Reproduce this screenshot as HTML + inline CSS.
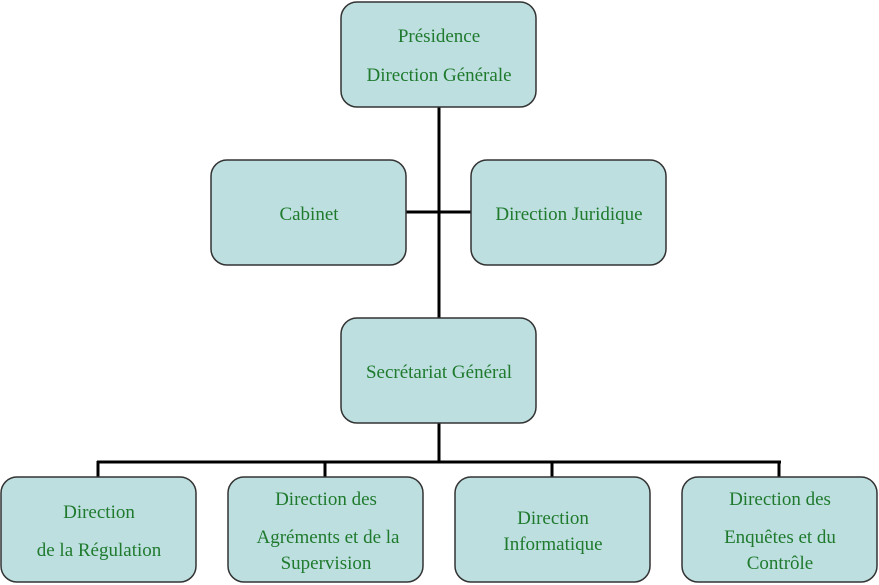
<!DOCTYPE html>
<html><head><meta charset="utf-8"><style>
html,body{margin:0;padding:0;background:#fff;width:879px;height:585px;overflow:hidden}
svg text{font-family:"Liberation Serif","DejaVu Serif",serif !important;font-size:19px;fill:#1f7a2e;text-anchor:middle}
rect{fill:#bddfdf;stroke:#333;stroke-width:1.5}
line{stroke:#000;stroke-width:3}
</style></head><body>
<svg width="879" height="585" xmlns="http://www.w3.org/2000/svg" font-family="Liberation Serif, serif">
<line x1="439" y1="107" x2="439" y2="318"/>
<line x1="406" y1="212" x2="471" y2="212"/>
<line x1="439" y1="423" x2="439" y2="462"/>
<line x1="97" y1="462" x2="781" y2="462"/>
<line x1="98" y1="461" x2="98" y2="477"/>
<line x1="325" y1="461" x2="325" y2="477"/>
<line x1="552" y1="461" x2="552" y2="477"/>
<line x1="779" y1="461" x2="779" y2="477"/>
<rect x="341" y="2" width="195" height="105" rx="16"/>
<rect x="211" y="160" width="195" height="105" rx="16"/>
<rect x="471" y="160" width="195" height="105" rx="16"/>
<rect x="341" y="318" width="195" height="105" rx="16"/>
<rect x="1" y="477" width="195" height="105" rx="16"/>
<rect x="228" y="477" width="195" height="105" rx="16"/>
<rect x="455" y="477" width="195" height="105" rx="16"/>
<rect x="682" y="477" width="195" height="105" rx="16"/>
<text x="439" y="42" font-family="Liberation Serif, serif">Présidence</text>
<text x="439" y="81" font-family="Liberation Serif, serif">Direction Générale</text>
<text x="309" y="220" font-family="Liberation Serif, serif">Cabinet</text>
<text x="569" y="220" font-family="Liberation Serif, serif">Direction Juridique</text>
<text x="439" y="378" font-family="Liberation Serif, serif">Secrétariat Général</text>
<text x="99" y="518" font-family="Liberation Serif, serif">Direction</text>
<text x="99" y="556" font-family="Liberation Serif, serif">de la Régulation</text>
<text x="326" y="505" font-family="Liberation Serif, serif">Direction des</text>
<text x="328" y="543" font-family="Liberation Serif, serif">Agréments et de la</text>
<text x="326" y="569" font-family="Liberation Serif, serif">Supervision</text>
<text x="553" y="524" font-family="Liberation Serif, serif">Direction</text>
<text x="553" y="550" font-family="Liberation Serif, serif">Informatique</text>
<text x="780" y="505" font-family="Liberation Serif, serif">Direction des</text>
<text x="780" y="543" font-family="Liberation Serif, serif">Enquêtes et du</text>
<text x="780" y="569" font-family="Liberation Serif, serif">Contrôle</text>
</svg>
</body></html>
